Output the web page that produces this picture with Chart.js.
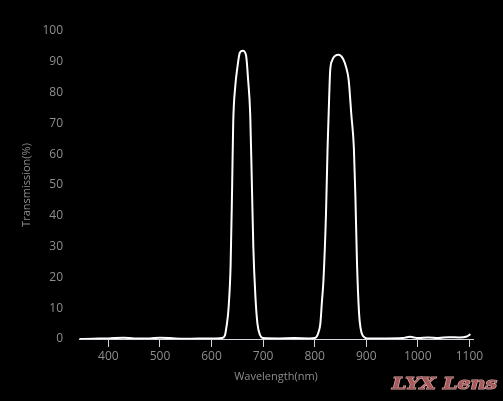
<!DOCTYPE html>
<html>
<head>
<meta charset="utf-8">
<script src="https://cdn.jsdelivr.net/npm/chart.js@4"></script>
<style>
  html, body { margin: 0; padding: 0; background: #000; }
  #spectrum { display: block; }
</style>
</head>
<body>
<canvas id="spectrum" width="503" height="401"></canvas>
<script>
// transmission curve
const wavelengths = [344, 370, 400, 430, 450, 480, 500, 530, 560, 590, 610, 620, 626, 629, 633, 637, 640, 642, 646, 650, 655, 661, 667, 671, 675, 678, 681, 685, 689, 694, 700,
  730, 760, 790, 800, 804, 808, 811, 814, 817, 822, 825, 828, 830, 834, 840, 846, 855, 861, 866, 871, 876, 879, 882, 886, 889, 892, 898, 905,
  940, 970, 985, 1000, 1020, 1040, 1060, 1080, 1095, 1102];
const transmission = [0, 0.1, 0.2, 0.4, 0.2, 0.2, 0.4, 0.2, 0.1, 0.2, 0.2, 0.3, 1.2, 4, 10, 24, 50, 70, 82, 88, 93, 93.6, 92, 84, 73, 52, 30, 14, 5, 1.3, 0.3,
  0.2, 0.3, 0.2, 0.3, 0.8, 2.5, 5, 12, 19, 41, 62, 78, 87, 90.5, 92, 92.3, 91, 88.2, 84, 73, 62, 46, 25, 8.5, 3.5, 1.5, 0.4, 0.2,
  0.2, 0.3, 0.7, 0.3, 0.5, 0.3, 0.6, 0.5, 0.8, 1.6];
const xTicks = [400, 500, 600, 700, 800, 900, 1000, 1100];
const xRange = [343, 1107];
const yRange = [0, 100];

const tickColor = '#8e8e8e';
const tickFont = { family: '"Open Sans", "DejaVu Sans", sans-serif', size: 12 };

const watermark = {
  id: 'watermark',
  afterDraw(chart) {
    const c = chart.ctx;
    c.save();
    c.font = 'italic bold 16px "DejaVu Serif", serif';
    c.textBaseline = 'middle';
    const text = 'LYX Lens';
    const w = c.measureText(text).width;
    c.translate(392, 385);
    c.scale(105 / w, 1);
    c.fillStyle = '#000';
    c.fillText(text, 1.5, 1.5);
    c.lineWidth = 1.2;
    c.strokeStyle = '#d8a8a8';
    c.strokeText(text, 0, 0);
    c.fillStyle = '#a85a5a';
    c.fillText(text, 0, 0);
    c.restore();
  }
};

const ctx = document.getElementById('spectrum');
const chart = new Chart(ctx, {
  type: 'line',
  data: {
    datasets: [{
      label: 'Transmission',
      data: wavelengths.map((w, i) => ({ x: w, y: transmission[i] })),
      borderColor: '#ffffff',
      borderWidth: 2,
      pointRadius: 0,
      fill: false,
      cubicInterpolationMode: 'monotone'
    }]
  },
  options: {
    responsive: false,
    animation: false,
    layout: { padding: { top: 31, right: 30, bottom: 0, left: 0 } },
    plugins: { legend: { display: false }, tooltip: { enabled: false } },
    scales: {
      x: {
        type: 'linear',
        min: xRange[0],
        max: xRange[1],
        afterBuildTicks: (scale) => { scale.ticks = xTicks.map(v => ({ value: v })); },
        afterFit: (scale) => { scale.height = 62; },
        border: { display: true, color: '#d4d4dc', width: 1 },
        grid: { display: true, drawOnChartArea: false, drawTicks: true, tickLength: 8, color: '#d4d4dc' },
        ticks: { color: tickColor, font: tickFont, padding: 2, maxRotation: 0, callback: (v) => String(v) },
        title: { display: true, text: 'Wavelength(nm)', color: tickColor, font: { family: tickFont.family, size: 11 }, padding: { top: 0, bottom: 18 } }
      },
      y: {
        min: yRange[0],
        max: yRange[1],
        afterFit: (scale) => { scale.width = 79; },
        border: { display: false },
        grid: { display: false, drawTicks: false },
        ticks: { stepSize: 10, color: tickColor, font: tickFont, padding: 16 },
        title: { display: true, text: 'Transmission(%)', color: tickColor, font: { family: tickFont.family, size: 11 }, padding: { top: 20, bottom: 0 } }
      }
    }
  },
  plugins: [watermark]
});
</script>
</body>
</html>
